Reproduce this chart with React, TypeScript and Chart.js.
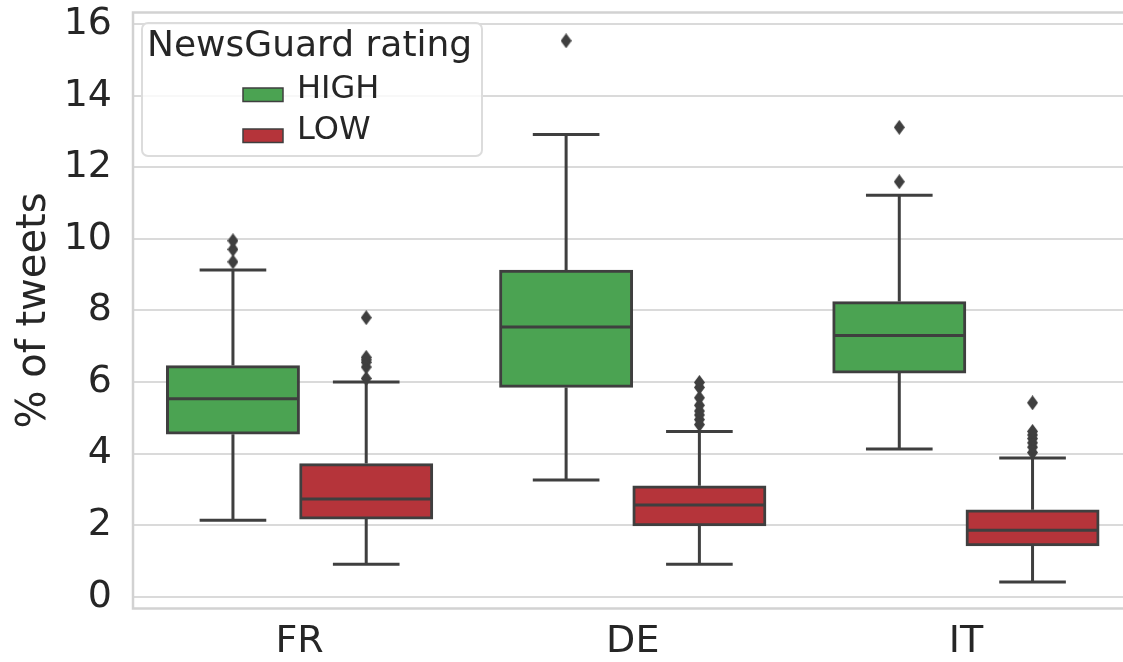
import React, { useEffect, useRef } from 'react';
import { Chart, registerables } from 'chart.js';

Chart.register(...registerables);

// ---- data ----
const categories = ['FR', 'DE', 'IT'];
const seriesNames = ['HIGH', 'LOW'];
const groupOffsets = [-0.2, 0.2];

const highQ1 = [4.54, 5.85, 6.25];
const highMedian = [5.53, 7.54, 7.3];
const highQ3 = [6.46, 9.13, 8.25];
const highWhiskerLow = [2.14, 3.26, 4.13];
const highWhiskerHigh = [9.13, 12.92, 11.22];
const highOutliers = [[9.36, 9.71, 9.95], [15.54], [11.6, 13.12]];

const lowQ1 = [2.17, 1.98, 1.42];
const lowMedian = [2.73, 2.56, 1.86];
const lowQ3 = [3.72, 3.1, 2.43];
const lowWhiskerLow = [0.91, 0.91, 0.41];
const lowWhiskerHigh = [6.0, 4.62, 3.88];
const lowOutliers = [
  [6.1, 6.42, 6.55, 6.62, 6.69, 7.8],
  [4.81, 4.95, 5.08, 5.19, 5.35, 5.56, 5.85, 5.99],
  [4.03, 4.18, 4.3, 4.42, 4.52, 4.62, 5.42],
];

const yTicks = [0, 2, 4, 6, 8, 10, 12, 14, 16];
const yMin = -0.33;
const yMax = 16.33;

const legendTitle = 'NewsGuard rating';
const yAxisTitle = '% of tweets';

// ---- styles ----
const GREEN = 'rgb(75,163,82)';
const RED = 'rgb(181,52,58)';
const EDGE = '#3f3f3f';
const GRID = '#dadada';
const TEXT = '#262626';
const FONT = "'DejaVu Sans', 'Liberation Sans', sans-serif";

const boxStats = [
  { med: highMedian, lo: highWhiskerLow, hi: highWhiskerHigh, q1: highQ1, q3: highQ3 },
  { med: lowMedian, lo: lowWhiskerLow, hi: lowWhiskerHigh, q1: lowQ1, q3: lowQ3 },
];

function makeDiamond(): HTMLCanvasElement {
  const c = document.createElement('canvas');
  c.width = 11;
  c.height = 15;
  const g = c.getContext('2d')!;
  g.fillStyle = EDGE;
  g.beginPath();
  g.moveTo(5.5, 0);
  g.lineTo(11, 7.5);
  g.lineTo(5.5, 15);
  g.lineTo(0, 7.5);
  g.closePath();
  g.fill();
  return c;
}

const boxPlugin = {
  id: 'boxWhiskers',
  beforeDatasetsDraw(chart: any) {
    const ctx = chart.ctx;
    const area = chart.chartArea;
    const ys = chart.scales.y;
    ctx.save();
    ctx.strokeStyle = '#d2d2d2';
    ctx.lineWidth = 2.5;
    ctx.strokeRect(area.left, area.top, area.right - area.left, area.bottom - area.top);
    ctx.strokeStyle = EDGE;
    ctx.lineWidth = 3;
    ctx.lineCap = 'butt';
    [0, 1].forEach((di) => {
      const meta = chart.getDatasetMeta(di);
      const s = boxStats[di];
      meta.data.forEach((bar: any, j: number) => {
        const x = bar.x;
        const w = bar.width;
        const yq1 = ys.getPixelForValue(s.q1[j]);
        const yq3 = ys.getPixelForValue(s.q3[j]);
        const ylo = ys.getPixelForValue(s.lo[j]);
        const yhi = ys.getPixelForValue(s.hi[j]);
        ctx.beginPath();
        ctx.moveTo(x, yq3);
        ctx.lineTo(x, yhi);
        ctx.moveTo(x - w / 4, yhi);
        ctx.lineTo(x + w / 4, yhi);
        ctx.moveTo(x, yq1);
        ctx.lineTo(x, ylo);
        ctx.moveTo(x - w / 4, ylo);
        ctx.lineTo(x + w / 4, ylo);
        ctx.stroke();
      });
    });
    ctx.restore();
  },
  afterDatasetsDraw(chart: any) {
    const ctx = chart.ctx;
    const ys = chart.scales.y;
    ctx.save();
    ctx.strokeStyle = EDGE;
    ctx.lineWidth = 3;
    [0, 1].forEach((di) => {
      const meta = chart.getDatasetMeta(di);
      const s = boxStats[di];
      meta.data.forEach((bar: any, j: number) => {
        const x = bar.x;
        const w = bar.width;
        const ym = ys.getPixelForValue(s.med[j]);
        ctx.beginPath();
        ctx.moveTo(x - w / 2 + 1.5, ym);
        ctx.lineTo(x + w / 2 - 1.5, ym);
        ctx.stroke();
      });
    });
    ctx.restore();
  },
  afterDraw(chart: any) {
    const ctx = chart.ctx;
    ctx.save();
    // legend frame
    const lx = 142, ly = 23, lw = 340, lh = 133, r = 6;
    ctx.beginPath();
    ctx.moveTo(lx + r, ly);
    ctx.lineTo(lx + lw - r, ly);
    ctx.arcTo(lx + lw, ly, lx + lw, ly + r, r);
    ctx.lineTo(lx + lw, ly + lh - r);
    ctx.arcTo(lx + lw, ly + lh, lx + lw - r, ly + lh, r);
    ctx.lineTo(lx + r, ly + lh);
    ctx.arcTo(lx, ly + lh, lx, ly + lh - r, r);
    ctx.lineTo(lx, ly + r);
    ctx.arcTo(lx, ly, lx + r, ly, r);
    ctx.closePath();
    ctx.fillStyle = 'rgba(255,255,255,0.8)';
    ctx.fill();
    ctx.strokeStyle = '#dcdcdc';
    ctx.lineWidth = 2;
    ctx.stroke();
    // title
    ctx.fillStyle = TEXT;
    ctx.textBaseline = 'middle';
    ctx.textAlign = 'left';
    ctx.font = `36px ${FONT}`;
    ctx.fillText(legendTitle, 147, 47);
    // items
    ctx.font = `32px ${FONT}`;
    const rows = [90, 131];
    [0, 1].forEach((di) => {
      const ds = chart.data.datasets[di];
      const cy = rows[di];
      ctx.fillStyle = ds.backgroundColor;
      ctx.fillRect(243, cy - 2, 40, 13.5);
      ctx.strokeStyle = EDGE;
      ctx.lineWidth = 1.5;
      ctx.strokeRect(243, cy - 2, 40, 13.5);
      ctx.fillStyle = TEXT;
      ctx.fillText(ds.label, 297, cy);
    });
    ctx.restore();
  },
};

function boxData(q1: number[], q3: number[], offset: number) {
  return categories.map((_, i) => ({ x: i + offset, y: [q1[i], q3[i]] }));
}

function outlierPoints(outs: number[][], offset: number) {
  const pts: { x: number; y: number }[] = [];
  outs.forEach((arr, i) => arr.forEach((v) => pts.push({ x: i + offset, y: v })));
  return pts;
}

export default function App() {
  const ref = useRef<HTMLCanvasElement | null>(null);

  useEffect(() => {
    if (!ref.current) return;
    const diamond = makeDiamond();
    const barCommon = {
      borderColor: EDGE,
      borderWidth: 3,
      borderSkipped: false,
      grouped: false,
      categoryPercentage: 1.0,
      barPercentage: 1.0,
    };
    const chart = new Chart(ref.current, {
      type: 'bar',
      data: {
        datasets: [
          {
            label: seriesNames[0],
            data: boxData(highQ1, highQ3, groupOffsets[0]),
            backgroundColor: GREEN,
            ...barCommon,
          },
          {
            label: seriesNames[1],
            data: boxData(lowQ1, lowQ3, groupOffsets[1]),
            backgroundColor: RED,
            ...barCommon,
          },
          {
            type: 'scatter',
            label: seriesNames[0] + ' outliers',
            data: outlierPoints(highOutliers, groupOffsets[0]),
            pointStyle: diamond,
            pointRadius: 6,
            backgroundColor: EDGE,
            borderColor: EDGE,
          },
          {
            type: 'scatter',
            label: seriesNames[1] + ' outliers',
            data: outlierPoints(lowOutliers, groupOffsets[1]),
            pointStyle: diamond,
            pointRadius: 6,
            backgroundColor: EDGE,
            borderColor: EDGE,
          },
        ] as any,
      },
      options: {
        responsive: false,
        animation: false,
        layout: { autoPadding: false, padding: { top: 12.5, right: 7.5, left: 0, bottom: 0 } },
        plugins: {
          legend: { display: false },
          tooltip: { enabled: false },
        },
        scales: {
          x: {
            type: 'linear',
            min: -0.5,
            max: 2.5,
            offset: false,
            grid: { display: false, drawTicks: false, offset: false },
            border: { display: false },
            afterBuildTicks: (s: any) => {
              s.ticks = categories.map((_, i) => ({ value: i }));
            },
            afterDataLimits: (s: any) => {
              s.min = -0.5;
              s.max = 2.5;
            },
            ticks: {
              color: TEXT,
              font: { family: FONT, size: 38 },
              padding: 11,
              maxRotation: 0,
              autoSkip: false,
              callback: (v: any) => categories[Math.round(Number(v))] ?? '',
            },
            afterFit: (s: any) => {
              s.height = 53.5;
              s.paddingLeft = 0;
              s.paddingRight = 0;
            },
          },
          y: {
            type: 'linear',
            min: yMin,
            max: yMax,
            grid: { color: GRID, lineWidth: 2, drawTicks: false },
            border: { display: false },
            afterBuildTicks: (s: any) => {
              s.ticks = yTicks.map((v) => ({ value: v }));
            },
            ticks: {
              color: TEXT,
              font: { family: FONT, size: 38 },
              padding: 21,
            },
            title: {
              display: true,
              text: yAxisTitle,
              color: TEXT,
              font: { family: FONT, size: 40 },
              padding: { top: 11, bottom: 0 },
            },
            afterFit: (s: any) => {
              s.width = 133;
              s.paddingTop = 0;
              s.paddingBottom = 0;
            },
          },
        },
      } as any,
      plugins: [boxPlugin],
    });
    return () => chart.destroy();
  }, []);

  return (
    <div
      style={{
        position: 'absolute',
        left: 0,
        top: 0,
        width: 1123,
        height: 662,
        overflow: 'hidden',
        background: '#ffffff',
      }}
    >
      <canvas ref={ref} width={1140} height={662} style={{ display: 'block' }} />
    </div>
  );
}
